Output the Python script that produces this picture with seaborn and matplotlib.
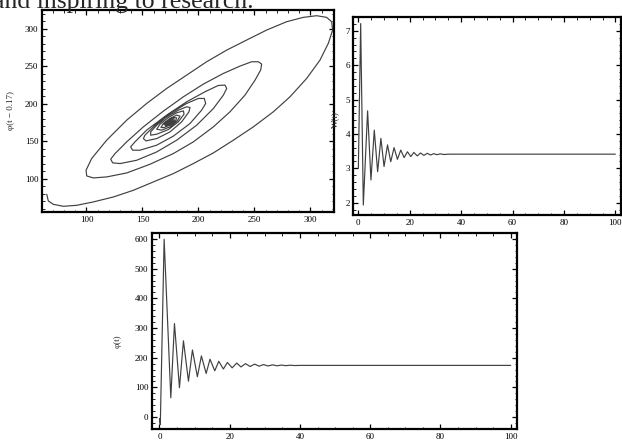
import matplotlib
matplotlib.use("Agg")
import matplotlib.pyplot as plt
from matplotlib.ticker import MultipleLocator
import seaborn as sns

# ---- data ----
# phase portrait: phi(t) (x) vs phi(t - 0.17) (y)
phase_x = [64.5, 65.9, 70.4, 79.3, 91.2, 106.1, 124, 141.8, 159.7, 177.5, 195.4, 213.3, 231.1, 249,
           266.8, 281.7, 296.6, 308.5, 315.9, 319.8, 318.9, 314.4, 305.5, 293.6, 278.7, 260.9, 243,
           225.2, 207.3, 189.4, 171.6, 153.7, 135.9, 118, 104.6, 99.6, 100.2, 106.1,
           118, 135.9, 156.7, 177.5, 195.4, 213.3, 228.1, 241.5, 250.5, 255.5, 256.4, 253.4, 247.5,
           237.1, 222.2, 204.3, 186.5, 168.6, 150.8, 135.9, 125.5, 121.6, 123.4,
           130, 144.8, 162.7, 180.5, 198.4, 213.3, 222.2, 225.2, 223.7, 217.7, 205.8, 189.4, 171.6,
           153.7, 143.3, 139.4, 141.2,
           147.8, 162.7, 177.5, 192.4, 202.8, 206.4, 205.2, 199.9, 189.4, 174.6, 161.2, 152.2, 150.8,
           153.1, 162.7, 174.6, 185, 191.5, 192.4, 189.4, 182, 171.6, 162.7, 157.3, 157.3,
           162.7, 173.1, 182, 187.1, 186.5, 180.5, 173.1, 165.6, 162.7,
           167.1, 174.6, 181.1, 183.5, 180.5, 174.6, 168.6, 166.5,
           169.2, 175.2, 179.6, 180.5, 177.5, 173.1, 169.2,
           171, 175.5, 178.4, 178.1, 175.2, 171.6, 170.7,
           172.2, 175.7, 177.5, 176.3, 173.3, 171.9,
           173.1, 175.5, 176.3, 175.2, 173.4, 173.7, 174.9, 175.4, 174.8, 174.0, 174.2, 174.8, 174.6]
phase_y = [79.6, 70.7, 66.2, 63.6, 64.9, 69.4, 76, 84.9, 96, 107.1, 120.5, 134.7, 151.6, 169.4,
           189.4, 209.4, 233.9, 258.3, 280.5, 298.3, 309.4, 315.2, 317.4, 315.2, 309.4, 298.3, 285,
           271.6, 256.1, 238.3, 220.5, 200.5, 178.3, 151.6, 127.2, 111.6, 104, 101.4,
           102.7, 108, 119.6, 133.8, 149.4, 169.4, 189.4, 211.6, 231.6, 245, 253, 256.1, 256.1,
           250.3, 240.5, 226.3, 209.4, 190.3, 169.4, 149.4, 133.8, 126.3, 121.4,
           120.5, 124.9, 136, 151.6, 171.6, 193.8, 211.6, 220.5, 225, 224.5, 216.1, 202.7, 185,
           165, 149.4, 142.7, 138.3,
           138.3, 145, 157, 173.8, 191.6, 200.5, 207.2, 207.2, 200.5, 187.2, 171.6, 158.3, 153.8,
           150.7, 153.8, 162.7, 176.1, 189.4, 195.2, 196.1, 191.6, 182.7, 171.6, 162.7, 158.3,
           159.6, 165.8, 176.1, 186.3, 190.7, 188.1, 181.8, 172.9, 166.3,
           165, 169.4, 177.4, 183.6, 185, 180.5, 173.8, 168.5,
           168.5, 172.1, 177.4, 181.4, 181.8, 178.3, 173,
           170.7, 173.4, 177.4, 180.1, 179.2, 175.6, 172.5,
           172.1, 174.3, 177.4, 178.7, 177, 173.8,
           173.4, 174.7, 176.5, 177.4, 175.6, 174.3, 175.2, 176.2, 176.6, 175.6, 175.0, 175.6, 175.6]

# W(t)
w_t = [0, 0.9, 1.93, 3.6, 4.9, 6.2, 7.5, 8.77, 10.0, 11.35, 12.6, 13.9, 15.2, 16.5, 17.8,
       19.1, 20.4, 21.6, 22.9, 24.2, 25.5, 26.8, 28.1, 29.3, 30.6, 31.9, 33.2, 35, 100]
w_v = [3.0, 7.21, 1.93, 4.67, 2.66, 4.11, 2.9, 3.87, 3.05, 3.68, 3.19, 3.6, 3.26, 3.53, 3.31,
       3.48, 3.34, 3.46, 3.36, 3.445, 3.375, 3.435, 3.385, 3.425, 3.395, 3.42, 3.40, 3.41, 3.41]

# phi(t)
phi_t = [0, 0.25, 1.34, 3.24, 4.28, 5.7, 6.84, 8.26, 9.4, 10.8, 11.95, 13.3, 14.4, 15.75, 16.9,
         18.2, 19.35, 20.7, 22.0, 23.2, 24.5, 25.8, 27.1, 28.4, 29.6, 30.9, 32.2, 33.5, 34.7,
         36.0, 37.3, 38.6, 40, 100]
phi_v = [-5, -25, 599, 65, 315, 99, 257, 121, 226, 136, 206, 147, 195, 156, 188,
         162, 184, 166, 182, 169, 180, 170.5, 178.5, 171.5, 177, 172.3, 176, 172.8, 175.3,
         173.3, 174.9, 173.6, 174.2, 174.2]

top_text = "and inspiring to research."

# ---- style ----
sns.set_theme(style="white")
plt.rcParams["font.family"] = ["Liberation Serif", "DejaVu Serif"]

W, H = 622, 443
fig = plt.figure(figsize=(W / 100, H / 100), dpi=100)
fig.patch.set_facecolor("white")

def box(l, t, r, b):
    return [l / W, 1 - b / H, (r - l) / W, (b - t) / H]

line_kw = dict(color="#404040", linewidth=0.85, sort=False, estimator=None)

def style(ax, xmaj, xmin, ymaj, ymin, ypad=2.5):
    for s in ax.spines.values():
        s.set_linewidth(1.6)
        s.set_color("black")
    ax.xaxis.set_major_locator(MultipleLocator(xmaj))
    ax.xaxis.set_minor_locator(MultipleLocator(xmin))
    ax.yaxis.set_major_locator(MultipleLocator(ymaj))
    ax.yaxis.set_minor_locator(MultipleLocator(ymin))
    ax.tick_params(which="both", direction="in", top=True, right=True,
                   bottom=True, left=True, colors="black", labelsize=6.5)
    ax.tick_params(which="major", length=3.5, width=0.9)
    ax.tick_params(which="minor", length=1.8, width=0.6)
    ax.tick_params(axis="x", which="major", pad=3)
    ax.tick_params(axis="y", which="major", pad=ypad)
    ax.grid(False)
    ax.set_xlabel("")

# top-left phase portrait
ax1 = fig.add_axes(box(41.7, 10, 334, 212))
sns.lineplot(x=phase_x, y=phase_y, ax=ax1, **line_kw)
ax1.set_xlim(60, 321)
ax1.set_ylim(56, 325)
style(ax1, 50, 10, 50, 10)
ax1.set_ylabel("φ(t − 0.17)", fontsize=6.5)
ax1.yaxis.set_label_coords(-0.09, 0.5)

# top-right W(t)
ax2 = fig.add_axes(box(352.7, 16.7, 620.5, 215))
sns.lineplot(x=w_t, y=w_v, ax=ax2, **line_kw)
ax2.set_xlim(-2.2, 102)
ax2.set_ylim(1.64, 7.41)
style(ax2, 20, 5, 1, 0.2, ypad=2)
ax2.set_ylabel("W(t)", fontsize=6.5)
ax2.yaxis.set_label_coords(-0.05, 0.48)

# bottom phi(t)
ax3 = fig.add_axes(box(151.7, 233, 516.7, 429))
sns.lineplot(x=phi_t, y=phi_v, ax=ax3, **line_kw)
ax3.set_xlim(-2.2, 101.7)
ax3.set_ylim(-40, 620)
style(ax3, 20, 5, 100, 20)
ax3.set_ylabel("φ(t)", fontsize=6.5)
ax3.yaxis.set_label_coords(-0.082, 0.45)

fig.text(-7 / W, 1 - 8 / H, top_text, fontsize=18.5, va="baseline", ha="left",
         family="Liberation Serif")

fig.savefig("out.png", dpi=100, facecolor="white")
